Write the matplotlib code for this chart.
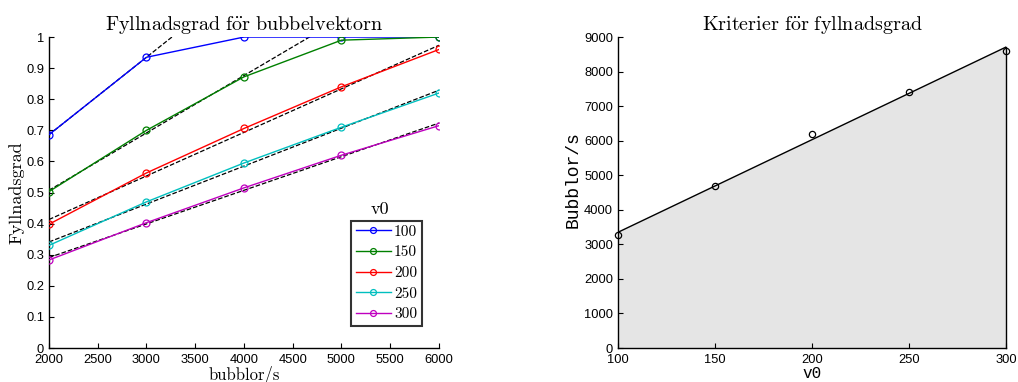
import numpy as np
import matplotlib
matplotlib.use("Agg")
import matplotlib.pyplot as plt

# left panel: fill grade vs bubbles per second, one curve per v0
rate = np.array([2000, 3000, 4000, 5000, 6000])
v0_labels = ["100", "150", "200", "250", "300"]
fill_100 = [0.686, 0.935, 1.000, 1.000, 1.000]
fill_150 = [0.503, 0.700, 0.872, 0.990, 1.000]
fill_200 = [0.398, 0.563, 0.706, 0.840, 0.960]
fill_250 = [0.330, 0.470, 0.595, 0.710, 0.820]
fill_300 = [0.283, 0.403, 0.515, 0.620, 0.715]
fill_all = [fill_100, fill_150, fill_200, fill_250, fill_300]

# right panel: bubbles/s needed vs v0
v0 = np.array([100, 150, 200, 250, 300])
crit = np.array([3270, 4680, 6180, 7420, 8600])

colors = ["#0000ff", "#008000", "#ff0000", "#00bfbf", "#bf00bf"]
serif = ["cmr10", "DejaVu Serif"]
sans = ["Liberation Sans", "DejaVu Sans"]
mono = ["Liberation Mono", "DejaVu Sans Mono"]

plt.rcParams["font.family"] = sans
plt.rcParams["mathtext.fontset"] = "cm"
plt.rcParams["xtick.direction"] = "in"
plt.rcParams["ytick.direction"] = "in"
plt.rcParams["xtick.labelsize"] = 9.3
plt.rcParams["ytick.labelsize"] = 9.3
plt.rcParams["xtick.major.pad"] = 4
plt.rcParams["axes.linewidth"] = 1.0

fig = plt.figure(figsize=(10.18, 3.82), dpi=100)
ax1 = fig.add_axes([0.0481, 0.089, 0.3831, 0.814])
ax2 = fig.add_axes([0.6071, 0.089, 0.3811, 0.814])

xx = np.array([2000, 6000])
for y, c, lab in zip(fill_all, colors, v0_labels):
    y = np.array(y)
    ok = y < 0.98
    k, m = np.polyfit(rate[ok], y[ok], 1)
    ax1.plot(xx, k * xx + m, "--", color="k", lw=0.9, zorder=2)
    ax1.plot(rate, y, "-o", color=c, lw=1.0, ms=5, mfc="none", mew=0.9,
             label=lab, zorder=3)

ax1.set_xlim(2000, 6000)
ax1.set_ylim(0, 1)
ax1.set_xticks(np.arange(2000, 6001, 500))
ax1.set_yticks(np.arange(0, 1.01, 0.1))
ax1.yaxis.set_major_formatter(matplotlib.ticker.FormatStrFormatter("%g"))
for s in ["top", "right"]:
    ax1.spines[s].set_visible(False)
ax1.set_title(r"$\mathrm{Fyllnadsgrad\ f\ddot{o}r\ bubbelvektorn}$",
              fontsize=14.5, pad=5)
ax1.set_xlabel("bubblor/s", family=serif, fontsize=12, labelpad=0)
ax1.set_ylabel("Fyllnadsgrad", family=serif, fontsize=13, labelpad=1)
leg = ax1.legend(loc="upper left", bbox_to_anchor=(0.775, 0.41),
                 prop={"family": serif, "size": 11}, frameon=True,
                 fancybox=False, edgecolor="k", handlelength=2.3,
                 handletextpad=0.2, borderpad=0.3, labelspacing=0.45,
                 borderaxespad=0, markerscale=0.85)
leg.get_frame().set_linewidth(1.5)
ax1.text(0.85, 0.445, "v0", transform=ax1.transAxes, ha="center", va="center",
         family=serif, fontsize=13)

kf, mf = np.polyfit(v0, crit, 1)
ax2.fill_between(v0, kf * v0 + mf, 0, color="#e5e5e5", zorder=1)
ax2.plot(v0, kf * v0 + mf, color="k", lw=1.0, zorder=3)
ax2.plot([300, 300], [0, kf * 300 + mf], color="k", lw=1.0, zorder=3,
         clip_on=False)
ax2.plot(v0, crit, "o", color="k", ms=4.5, mfc="none", mew=0.9, zorder=4,
         clip_on=False)
ax2.set_xlim(100, 300)
ax2.set_ylim(0, 9000)
ax2.set_xticks(np.arange(100, 301, 50))
ax2.set_yticks(np.arange(0, 9001, 1000))
for s in ["top", "right"]:
    ax2.spines[s].set_visible(False)
ax2.set_title(r"$\mathrm{Kriterier\ f\ddot{o}r\ fyllnadsgrad}$",
              fontsize=14.5, pad=5)
ax2.set_xlabel("v0", family=mono, fontsize=11.5, labelpad=0)
ax2.set_ylabel("Bubblor/s", family=mono, fontsize=13, labelpad=1)
ax2.yaxis.set_label_coords(-0.095, 0.54)

fig.savefig("out.png", dpi=100)
